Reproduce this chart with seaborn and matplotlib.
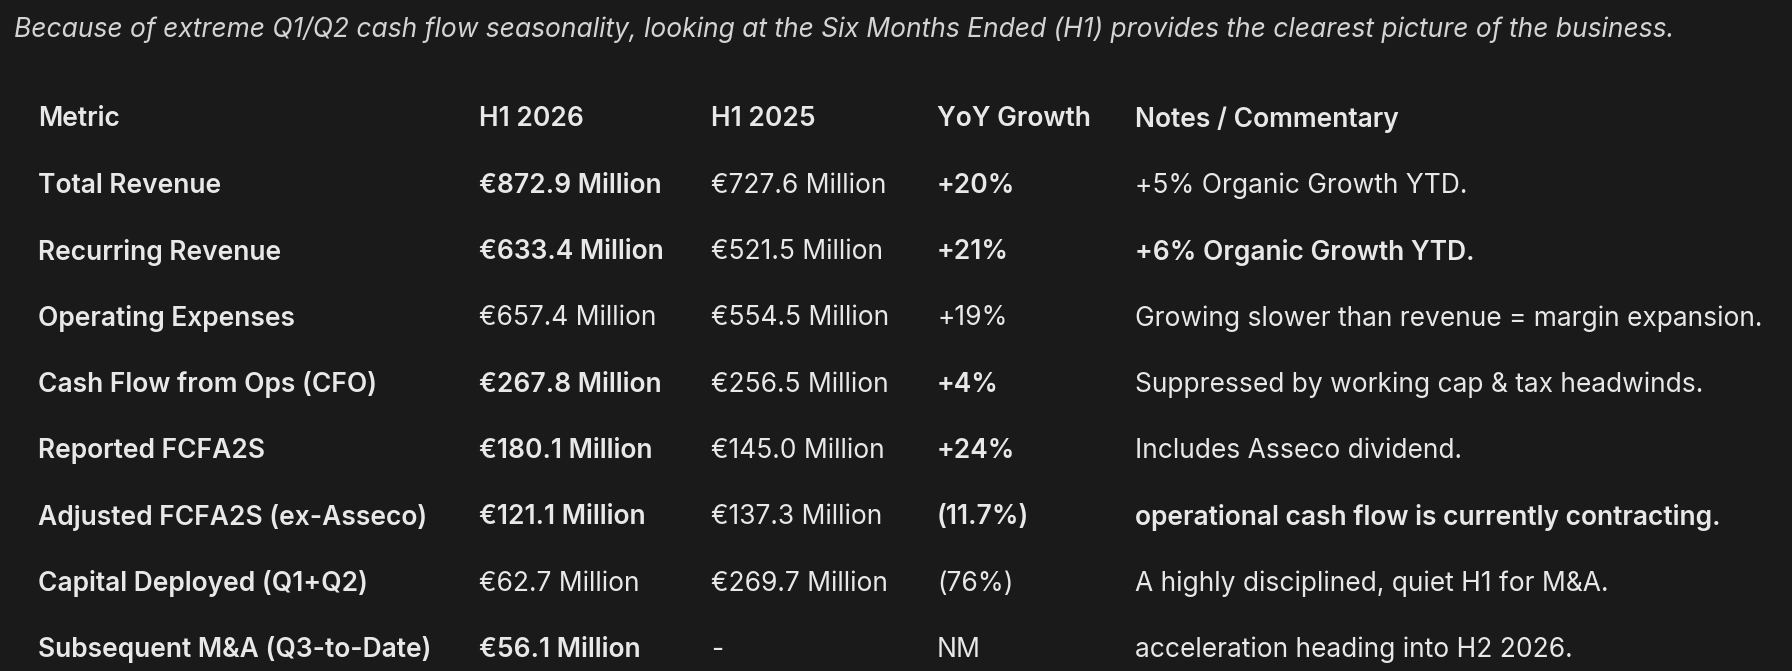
import pandas as pd
import seaborn as sns
import matplotlib.pyplot as plt

# === table content ===
subtitle = ("Because of extreme Q1/Q2 cash flow seasonality, looking at the Six Months Ended (H1) "
            "provides the clearest picture of the business.")

columns = ["Metric", "H1 2026", "H1 2025", "YoY Growth", "Notes / Commentary"]

metrics = [
    "Total Revenue",
    "Recurring Revenue",
    "Operating Expenses",
    "Cash Flow from Ops (CFO)",
    "Reported FCFA2S",
    "Adjusted FCFA2S (ex-Asseco)",
    "Capital Deployed (Q1+Q2)",
    "Subsequent M&A (Q3-to-Date)",
]
h1_2026 = ["€872.9 Million", "€633.4 Million", "€657.4 Million", "€267.8 Million",
           "€180.1 Million", "€121.1 Million", "€62.7 Million", "€56.1 Million"]
h1_2025 = ["€727.6 Million", "€521.5 Million", "€554.5 Million", "€256.5 Million",
           "€145.0 Million", "€137.3 Million", "€269.7 Million", "-"]
yoy = ["+20%", "+21%", "+19%", "+4%", "+24%", "(11.7%)", "(76%)", "NM"]
notes = [
    "+5% Organic Growth YTD.",
    "+6% Organic Growth YTD.",
    "Growing slower than revenue = margin expansion.",
    "Suppressed by working cap & tax headwinds.",
    "Includes Asseco dividend.",
    "operational cash flow is currently contracting.",
    "A highly disciplined, quiet H1 for M&A.",
    "acceleration heading into H2 2026.",
]

# which cells are emphasised (bold) in each column
bold_2026 = [True, True, False, True, True, True, False, True]
bold_yoy = [True, True, False, True, True, True, False, False]
bold_notes = [False, True, False, False, False, True, False, False]

df = pd.DataFrame({
    "Metric": metrics, "H1 2026": h1_2026, "H1 2025": h1_2025,
    "YoY Growth": yoy, "Notes / Commentary": notes,
})

# === style ===
bg = "#1a1a1a"
fg = "#e8e8e8"
sns.set_theme(style="dark", rc={
    "figure.facecolor": bg, "axes.facecolor": bg, "savefig.facecolor": bg,
    "text.color": fg,
})
plt.rcParams["font.family"] = ["Inter", "DejaVu Sans"]

fig = plt.figure(figsize=(17.92, 6.71), dpi=100)
ax = fig.add_axes([0, 0, 1, 1])
ax.set_xlim(0, 1792)
ax.set_ylim(671, 0)
ax.set_axis_off()

# layout (pixel units of the canvas)
col_x = [38, 479, 711, 937, 1135]
header_y = 119.5
row_gap = 66.3
fs = 19

ax.text(14, 30, subtitle, fontsize=19, style="italic", color="#d4d4d4",
        va="center", ha="left")

for x, name in zip(col_x, columns):
    ax.text(x, header_y, name, fontsize=fs, weight="semibold", va="center", ha="left")

for i, row in df.iterrows():
    y = header_y + row_gap * (i + 1)
    weights = [
        "semibold",
        "semibold" if bold_2026[i] else "normal",
        "normal",
        "semibold" if bold_yoy[i] else "normal",
        "semibold" if bold_notes[i] else "normal",
    ]
    for x, col, w in zip(col_x, columns, weights):
        ax.text(x, y, row[col], fontsize=fs, weight=w, va="center", ha="left")

fig.savefig("out.png", dpi=100, facecolor=bg)
